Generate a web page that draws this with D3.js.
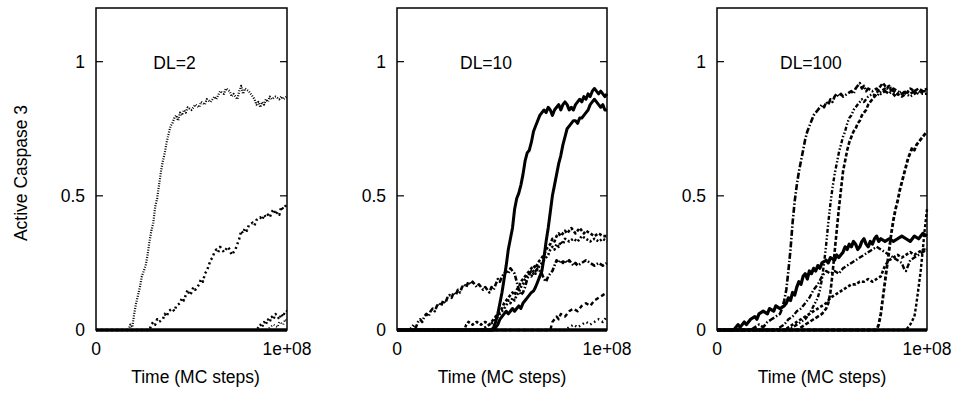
<!DOCTYPE html>
<html>
<head>
<meta charset="utf-8">
<script src="https://cdn.jsdelivr.net/npm/d3@7"></script>
<style>
  body { margin: 0; background: #fff; }
  svg { display: block; }
  text { font-family: "Liberation Sans", Arial, Helvetica, sans-serif; fill: #000; }
</style>
</head>
<body>
<div id="chart"></div>
<script>
// Time is in millions of MC steps (0..100 = 0..1e+08), values are active caspase 3 fraction

// DL=2
const dl2_a = [[0,0],[17,0],[18,0.02],[19,0.01],[20,0.06],[21,0.10],[22,0.13],[23,0.16],[24,0.20],[25,0.22],[26,0.24],[27,0.28],[28,0.33],[29,0.37],[30,0.40],[31,0.46],[32,0.49],[33,0.54],[34,0.59],[35,0.63],[36,0.66],[37,0.70],[38,0.73],[39,0.76],[40,0.77],[41,0.79],[42,0.80],[43,0.78],[44,0.81],[45,0.80],[46,0.82],[47,0.81],[48,0.83],[50,0.82],[52,0.84],[54,0.83],[55,0.85],[57,0.84],[58,0.86],[60,0.85],[62,0.87],[63,0.86],[65,0.89],[67,0.88],[68,0.90],[70,0.89],[71,0.87],[72,0.88],[74,0.86],[75,0.89],[76,0.91],[77,0.88],[78,0.90],[80,0.89],[81,0.88],[82,0.87],[83,0.86],[84,0.84],[85,0.85],[86,0.83],[87,0.85],[88,0.84],[89,0.86],[90,0.85],[91,0.87],[92,0.86],[94,0.87],[96,0.86],[97,0.87],[98,0.86],[100,0.87]];
const dl2_b = [[0,0],[28,0],[29,0.02],[30,0.03],[31,0.02],[32,0.04],[33,0.03],[35,0.04],[36,0.06],[37,0.05],[38,0.07],[40,0.08],[41,0.07],[42,0.09],[44,0.10],[45,0.12],[46,0.11],[47,0.13],[48,0.15],[49,0.13],[50,0.14],[51,0.16],[52,0.15],[54,0.17],[55,0.19],[56,0.18],[57,0.21],[58,0.22],[59,0.24],[60,0.26],[61,0.27],[62,0.29],[63,0.30],[64,0.29],[65,0.31],[66,0.30],[67,0.29],[68,0.30],[69,0.31],[70,0.30],[71,0.28],[72,0.29],[73,0.30],[74,0.32],[75,0.34],[76,0.37],[77,0.36],[78,0.38],[79,0.37],[80,0.39],[82,0.40],[83,0.39],[84,0.41],[86,0.42],[87,0.41],[88,0.43],[89,0.42],[90,0.43],[91,0.42],[92,0.44],[93,0.45],[94,0.43],[95,0.44],[96,0.43],[97,0.46],[98,0.45],[100,0.47]];
const dl2_c = [[0,0],[84,0],[85,0.01],[86,0.02],[87,0.01],[88,0.03],[89,0.02],[90,0.04],[91,0.03],[92,0.05],[93,0.04],[94,0.06],[95,0.05],[96,0.04],[97,0.06],[98,0.05],[99,0.07],[100,0.07]];
const dl2_d = [[0,0],[90,0],[91,0.01],[93,0.02],[95,0.01],[96,0.03],[98,0.02],[99,0.04],[100,0.03]];
const dl2_flat = [[0,0],[100,0]];

// DL=10
const dl10_a = [[0,0],[45,0],[46,0.01],[47,0.03],[48,0.06],[49,0.10],[50,0.14],[51,0.19],[52,0.24],[53,0.30],[54,0.34],[55,0.38],[56,0.45],[57,0.49],[58,0.51],[59,0.54],[60,0.58],[61,0.63],[62,0.66],[63,0.67],[64,0.70],[65,0.74],[66,0.76],[67,0.78],[68,0.80],[69,0.81],[70,0.82],[71,0.81],[72,0.83],[73,0.82],[74,0.80],[75,0.82],[76,0.83],[77,0.84],[78,0.82],[79,0.84],[80,0.85],[81,0.84],[82,0.82],[83,0.83],[84,0.82],[85,0.84],[86,0.85],[87,0.86],[88,0.85],[89,0.87],[90,0.86],[91,0.88],[92,0.87],[93,0.89],[94,0.90],[95,0.89],[96,0.88],[97,0.89],[98,0.88],[99,0.87],[100,0.88]];
const dl10_b = [[0,0],[46,0],[47,0.01],[48,0.02],[49,0.04],[50,0.05],[51,0.06],[52,0.07],[53,0.06],[54,0.07],[55,0.08],[56,0.07],[57,0.08],[58,0.09],[59,0.08],[60,0.10],[61,0.11],[62,0.12],[63,0.13],[64,0.14],[65,0.145],[66,0.16],[67,0.18],[68,0.20],[69,0.22],[70,0.27],[71,0.33],[72,0.38],[73,0.44],[74,0.50],[75,0.54],[76,0.58],[77,0.62],[78,0.65],[79,0.69],[80,0.72],[81,0.75],[82,0.76],[83,0.77],[84,0.78],[85,0.78],[86,0.77],[87,0.79],[88,0.79],[89,0.80],[90,0.81],[91,0.82],[92,0.84],[93,0.85],[94,0.86],[95,0.85],[96,0.84],[97,0.83],[98,0.84],[99,0.82],[100,0.82]];
const dl10_c = [[0,0],[6,0],[7,0.01],[8,0.02],[9,0.01],[10,0.03],[11,0.04],[12,0.03],[13,0.05],[14,0.06],[15,0.05],[16,0.07],[17,0.08],[18,0.07],[19,0.09],[20,0.10],[21,0.09],[22,0.11],[23,0.10],[24,0.12],[25,0.13],[26,0.12],[27,0.14],[28,0.13],[29,0.15],[30,0.14],[31,0.16],[32,0.17],[33,0.16],[34,0.18],[35,0.17],[36,0.18],[37,0.17],[38,0.16],[39,0.17],[40,0.16],[41,0.15],[42,0.16],[43,0.15],[44,0.14],[45,0.16],[46,0.15],[47,0.17],[48,0.19],[49,0.18],[50,0.20],[51,0.21],[52,0.22],[53,0.21],[54,0.23],[55,0.22],[56,0.21],[57,0.18],[58,0.15],[59,0.13],[60,0.14],[61,0.16],[62,0.19],[63,0.21],[64,0.22],[65,0.21],[66,0.22],[67,0.23],[68,0.22],[69,0.21],[70,0.19],[71,0.18],[72,0.20],[73,0.21],[74,0.22],[75,0.24],[76,0.26],[77,0.25],[78,0.26],[79,0.25],[80,0.26],[81,0.25],[82,0.26],[83,0.25],[84,0.24],[85,0.25],[86,0.24],[88,0.25],[90,0.26],[92,0.25],[94,0.24],[96,0.25],[98,0.24],[100,0.25]];
const dl10_d = [[0,0],[32,0],[33,0.02],[34,0.03],[36,0.02],[38,0.03],[40,0.02],[42,0.03],[44,0.02],[46,0.04],[48,0.06],[49,0.07],[50,0.08],[51,0.10],[52,0.11],[53,0.12],[54,0.13],[55,0.14],[56,0.13],[57,0.15],[58,0.16],[59,0.18],[60,0.19],[61,0.20],[62,0.21],[63,0.22],[64,0.23],[65,0.24],[66,0.23],[67,0.25],[68,0.26],[69,0.27],[70,0.28],[71,0.30],[72,0.31],[73,0.32],[74,0.34],[75,0.33],[76,0.35],[77,0.36],[78,0.35],[79,0.36],[80,0.37],[81,0.36],[82,0.37],[83,0.38],[84,0.37],[85,0.36],[86,0.37],[87,0.38],[88,0.37],[89,0.36],[90,0.37],[92,0.36],[94,0.35],[96,0.36],[98,0.35],[100,0.35]];
const dl10_e = [[0,0],[40,0],[42,0.01],[44,0.02],[46,0.03],[48,0.05],[50,0.07],[52,0.09],[53,0.11],[54,0.10],[55,0.12],[56,0.11],[57,0.13],[58,0.14],[59,0.16],[60,0.17],[61,0.19],[62,0.20],[63,0.21],[64,0.20],[65,0.22],[66,0.21],[67,0.23],[68,0.24],[69,0.25],[70,0.26],[71,0.27],[72,0.28],[73,0.30],[74,0.31],[75,0.30],[76,0.32],[77,0.31],[78,0.33],[79,0.32],[80,0.34],[82,0.33],[84,0.34],[86,0.33],[88,0.35],[90,0.34],[92,0.33],[94,0.34],[96,0.33],[98,0.34],[100,0.33]];
const dl10_f = [[0,0],[73,0],[74,0.03],[75,0.04],[76,0.05],[77,0.04],[78,0.06],[80,0.05],[82,0.07],[84,0.08],[86,0.07],[88,0.09],[90,0.10],[92,0.09],[94,0.11],[96,0.12],[98,0.13],[100,0.14]];
const dl10_g = [[0,0],[80,0],[82,0.01],[84,0.02],[86,0.01],[88,0.02],[90,0.03],[92,0.02],[94,0.03],[96,0.04],[98,0.03],[100,0.05]];
const dl10_flat = [[0,0],[100,0]];

// DL=100
const dl100_a = [[0,0],[16,0],[18,0.01],[20,0.02],[22,0.01],[24,0.03],[26,0.04],[28,0.05],[30,0.06],[31,0.08],[32,0.11],[33,0.15],[34,0.22],[35,0.30],[36,0.40],[37,0.48],[38,0.54],[39,0.59],[40,0.63],[41,0.67],[42,0.71],[43,0.74],[44,0.76],[45,0.78],[46,0.80],[47,0.81],[48,0.82],[49,0.83],[50,0.84],[51,0.83],[52,0.85],[53,0.84],[54,0.86],[55,0.85],[56,0.87],[57,0.88],[58,0.87],[59,0.88],[60,0.87],[62,0.88],[64,0.89],[65,0.88],[66,0.90],[67,0.91],[68,0.92],[69,0.90],[70,0.91],[71,0.89],[72,0.90],[74,0.89],[76,0.90],[78,0.88],[80,0.89],[82,0.88],[84,0.90],[86,0.89],[88,0.88],[90,0.89],[92,0.88],[94,0.89],[96,0.88],[98,0.89],[100,0.89]];
const dl100_b = [[0,0],[34,0],[36,0.01],[38,0.02],[40,0.03],[42,0.04],[44,0.06],[46,0.09],[48,0.12],[49,0.15],[50,0.19],[51,0.25],[52,0.32],[53,0.40],[54,0.47],[55,0.53],[56,0.58],[57,0.62],[58,0.66],[59,0.69],[60,0.72],[61,0.74],[62,0.77],[63,0.79],[64,0.80],[65,0.82],[66,0.83],[67,0.84],[68,0.85],[69,0.86],[70,0.85],[72,0.87],[74,0.88],[76,0.87],[78,0.89],[80,0.90],[82,0.91],[84,0.89],[86,0.88],[88,0.89],[90,0.88],[92,0.87],[94,0.88],[96,0.89],[98,0.88],[100,0.88]];
const dl100_c = [[0,0],[38,0],[40,0.01],[42,0.02],[44,0.03],[46,0.04],[48,0.05],[50,0.06],[52,0.08],[53,0.10],[54,0.14],[55,0.21],[56,0.29],[57,0.37],[58,0.45],[59,0.52],[60,0.59],[61,0.63],[62,0.67],[63,0.70],[64,0.72],[65,0.74],[66,0.75],[67,0.77],[68,0.78],[69,0.80],[70,0.81],[71,0.82],[72,0.84],[73,0.85],[74,0.86],[75,0.87],[76,0.88],[77,0.90],[78,0.91],[79,0.92],[80,0.91],[81,0.90],[82,0.91],[83,0.89],[84,0.88],[85,0.87],[86,0.88],[88,0.87],[90,0.88],[92,0.90],[94,0.89],[96,0.90],[98,0.89],[100,0.90]];
const dl100_d = [[0,0],[76,0],[77,0.02],[78,0.06],[79,0.12],[80,0.18],[81,0.24],[82,0.30],[83,0.36],[84,0.41],[85,0.45],[86,0.48],[87,0.52],[88,0.55],[89,0.58],[90,0.61],[91,0.64],[92,0.66],[93,0.68],[94,0.67],[95,0.69],[96,0.70],[97,0.71],[98,0.72],[99,0.73],[100,0.74]];
const dl100_e = [[0,0],[8,0],[9,0.01],[10,0.02],[11,0.01],[12,0.02],[13,0.03],[14,0.02],[16,0.04],[18,0.05],[19,0.04],[20,0.06],[22,0.07],[24,0.06],[25,0.08],[27,0.07],[28,0.09],[30,0.08],[32,0.09],[33,0.10],[34,0.12],[35,0.11],[36,0.14],[37,0.13],[38,0.16],[39,0.18],[40,0.17],[41,0.20],[42,0.21],[43,0.19],[44,0.22],[45,0.21],[46,0.23],[47,0.22],[48,0.24],[49,0.23],[50,0.25],[52,0.26],[53,0.25],[54,0.27],[56,0.26],[57,0.28],[58,0.27],[60,0.29],[61,0.31],[62,0.30],[63,0.32],[64,0.31],[65,0.33],[66,0.32],[67,0.30],[68,0.31],[69,0.33],[70,0.34],[71,0.32],[72,0.31],[73,0.33],[74,0.32],[75,0.34],[76,0.35],[77,0.33],[78,0.34],[80,0.33],[82,0.34],[84,0.33],[86,0.34],[88,0.35],[90,0.34],[92,0.33],[94,0.35],[96,0.34],[98,0.36],[100,0.35]];
const dl100_f = [[0,0],[28,0],[30,0.01],[32,0.02],[34,0.04],[36,0.05],[38,0.07],[40,0.08],[42,0.10],[44,0.12],[46,0.15],[48,0.17],[50,0.20],[52,0.22],[54,0.21],[56,0.22],[58,0.21],[60,0.23],[62,0.24],[64,0.25],[66,0.26],[68,0.27],[70,0.28],[72,0.29],[74,0.30],[76,0.31],[78,0.30],[80,0.29],[82,0.28],[84,0.27],[86,0.26],[88,0.25],[89,0.23],[90,0.22],[91,0.24],[92,0.26],[94,0.27],[96,0.28],[98,0.29],[100,0.30]];
const dl100_g = [[0,0],[32,0],[34,0.01],[36,0.02],[38,0.03],[40,0.04],[42,0.05],[44,0.06],[46,0.07],[48,0.08],[50,0.09],[52,0.10],[54,0.12],[56,0.13],[58,0.14],[60,0.15],[62,0.16],[64,0.17],[66,0.17],[68,0.18],[70,0.18],[72,0.19],[74,0.18],[76,0.19],[78,0.20],[79,0.22],[80,0.24],[82,0.26],[84,0.27],[86,0.28],[88,0.27],[90,0.28],[92,0.29],[94,0.28],[96,0.29],[98,0.30],[100,0.30]];
const dl100_h = [[0,0],[90,0],[92,0.02],[94,0.05],[95,0.10],[96,0.16],[97,0.22],[98,0.30],[99,0.38],[100,0.45]];
const dl100_flat = [[0,0],[100,0]];

const panelLabels = ["DL=2", "DL=10", "DL=100"];
const panelSeries = [
    [dl2_flat, dl2_a, dl2_b, dl2_c, dl2_d],
    [dl10_flat, dl10_a, dl10_b, dl10_c, dl10_d, dl10_e, dl10_f, dl10_g],
    [dl100_flat, dl100_a, dl100_b, dl100_c, dl100_d, dl100_e, dl100_f, dl100_g, dl100_h]
];
const yTicks = [0, 0.5, 1];
const yTickLabels = ["0", "0.5", "1"];
const xTicks = [0, 100];
const xTickLabels = ["0", "1e+08"];

// line styles per panel (dasharray, width)
const panelStyles = [
    [[null, 3.5], ["1,1.5", 2.2], ["2,3", 2.5], ["2,2.5", 2.2], ["1,2", 2]],
    [[null, 3.5], [null, 3], [null, 3], ["5,2,1.5,2", 2.6], ["3,2", 2.6], ["2,2", 2.6], ["4,3", 2.4], ["1.5,3", 2.4]],
    [[null, 3.5], ["6,2,1.5,2", 2.6], ["4,2,1.5,2,1.5,2", 2.4], ["4,2", 2.6], ["4,2", 2.8], [null, 3.2], ["5,2,1.5,2", 2.4], ["3,2", 2.6], ["3,2", 2.4]]
];

const width = 963;
const height = 393;
const plotTop = 8, plotBottom = 330;
const frames = [[96, 287], [397, 607], [717, 927]];

const svg = d3.select("#chart")
    .append("svg")
    .attr("width", width)
    .attr("height", height);

const y = d3.scaleLinear().domain([0, 1.2]).range([plotBottom, plotTop]);

const line = d3.line();

frames.forEach((f, p) => {
    const x = d3.scaleLinear().domain([0, 100]).range(f);
    const g = svg.append("g");

    // clip a little outside the frame so thick lines at zero are not cut in half
    g.append("clipPath").attr("id", "clip" + p)
        .append("rect")
        .attr("x", f[0] - 2).attr("y", plotTop)
        .attr("width", f[1] - f[0] + 4).attr("height", plotBottom - plotTop + 2);

    const lines = g.append("g").attr("clip-path", `url(#clip${p})`);
    panelSeries[p].forEach((s, i) => {
        const st = panelStyles[p][i];
        lines.append("path")
            .attr("d", line.x(d => x(d[0])).y(d => y(d[1]))(s))
            .attr("fill", "none")
            .attr("stroke", "#000")
            .attr("stroke-width", st[1])
            .attr("stroke-dasharray", st[0])
            .attr("stroke-linejoin", "round");
    });

    // frame
    g.append("rect")
        .attr("x", f[0]).attr("y", plotTop)
        .attr("width", f[1] - f[0]).attr("height", plotBottom - plotTop)
        .attr("fill", "none")
        .attr("stroke", "#000")
        .attr("stroke-width", 1.5);

    // y ticks, inward on both sides
    yTicks.forEach((t, k) => {
        g.append("line")
            .attr("x1", f[0]).attr("x2", f[0] + 7)
            .attr("y1", y(t)).attr("y2", y(t))
            .attr("stroke", "#000").attr("stroke-width", 1.2);
        g.append("line")
            .attr("x1", f[1]).attr("x2", f[1] - 7)
            .attr("y1", y(t)).attr("y2", y(t))
            .attr("stroke", "#000").attr("stroke-width", 1.2);
        g.append("text")
            .attr("x", f[0] - 11)
            .attr("y", y(t) + 6)
            .attr("text-anchor", "end")
            .style("font-size", "17.5px")
            .text(yTickLabels[k]);
    });

    xTicks.forEach((t, k) => {
        g.append("text")
            .attr("x", x(t))
            .attr("y", 355)
            .attr("text-anchor", "middle")
            .style("font-size", "17.5px")
            .text(xTickLabels[k]);
    });

    g.append("text")
        .attr("x", (f[0] + f[1]) / 2 + (p === 0 ? 4 : 0))
        .attr("y", 383)
        .attr("text-anchor", "middle")
        .style("font-size", "17.5px")
        .text("Time (MC steps)");

    g.append("text")
        .attr("x", x(30))
        .attr("y", 69)
        .attr("text-anchor", "start")
        .style("font-size", "17.5px")
        .text(panelLabels[p]);
});

// y axis label
svg.append("text")
    .attr("transform", "translate(27,173) rotate(-90)")
    .attr("text-anchor", "middle")
    .style("font-size", "17.5px")
    .text("Active Caspase 3");
</script>
</body>
</html>
